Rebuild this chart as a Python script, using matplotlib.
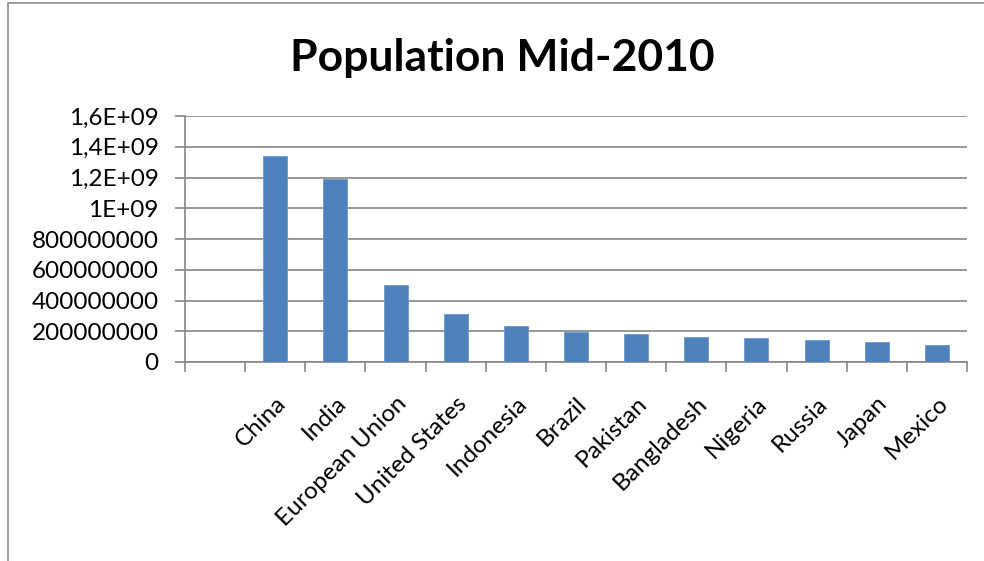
import matplotlib
matplotlib.use("Agg")
import matplotlib.pyplot as plt
from matplotlib.patches import Rectangle
from matplotlib.ticker import FixedLocator

# Population mid-2010
countries = ["China", "India", "European Union", "United States", "Indonesia", "Brazil",
             "Pakistan", "Bangladesh", "Nigeria", "Russia", "Japan", "Mexico"]
population = [1338e6, 1189e6, 501e6, 310e6, 235e6, 193e6,
              185e6, 164e6, 158e6, 142e6, 127e6, 110e6]

y_ticks = [0, 2e8, 4e8, 6e8, 8e8, 1e9, 1.2e9, 1.4e9, 1.6e9]
y_tick_labels = ["0", "200000000", "400000000", "600000000", "800000000",
                 "1E+09", "1,2E+09", "1,4E+09", "1,6E+09"]

bar_colour = "#4F81BD"
grid_colour = "#868686"

plt.rcParams["font.family"] = ["Lato", "DejaVu Sans"]

fig = plt.figure(figsize=(9.84, 5.61), dpi=100)
ax = fig.add_axes([185 / 984, 1 - 362 / 561, (967 - 185) / 984, (362 - 116) / 561])

# chart border (partly cut off on the right and bottom)
fig.patches.append(Rectangle((8 / 984, -0.1), 1.2, 1 - 3 / 561 + 0.1,
                             transform=fig.transFigure, fill=False,
                             edgecolor="#8c8c8c", linewidth=1.2))

x = list(range(len(countries)))
ax.bar(x, population, width=0.4, color=bar_colour, edgecolor="#6f97c9",
       linewidth=0.6, zorder=3)

ax.set_xlim(-1.5, len(countries) - 0.5)
ax.set_ylim(0, 1.6e9)

ax.set_yticks(y_ticks)
ax.set_yticklabels(y_tick_labels, fontsize=17.5)
ax.yaxis.grid(True, color=grid_colour, linewidth=1.2, zorder=0)

ax.set_xticks(x)
ax.set_xticklabels(countries, rotation=45, ha="right", va="top",
                   rotation_mode="anchor", fontsize=17.5)
ax.xaxis.set_minor_locator(FixedLocator([i - 0.5 for i in range(-1, len(countries) + 1)]))
ax.tick_params(axis="x", which="major", length=0, pad=22)
ax.tick_params(axis="x", which="minor", length=7, width=1.2, color=grid_colour)
ax.tick_params(axis="y", length=7, width=1.2, color=grid_colour, pad=12)

for side in ["top", "right"]:
    ax.spines[side].set_visible(False)
for side in ["left", "bottom"]:
    ax.spines[side].set_color(grid_colour)
    ax.spines[side].set_linewidth(1.2)

fig.text(502 / 984, 1 - 58 / 561, "Population Mid-2010", ha="center", va="center",
         fontsize=32, fontweight="bold")

fig.savefig("out.png", dpi=100)
